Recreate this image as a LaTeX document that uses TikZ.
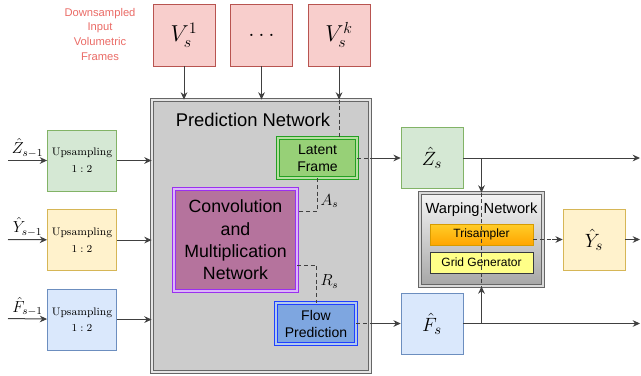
\documentclass[tikz,border=0pt]{standalone}
\usepackage{fontspec}
\newfontfamily\arialfont{Liberation Sans}
\usepackage{tikz}
\usetikzlibrary{shapes,arrows.meta,positioning}

\definecolor{redfill}{HTML}{F8CECC}
\definecolor{redline}{HTML}{B85450}
\definecolor{greenfill}{HTML}{D5E8D4}
\definecolor{greenline}{HTML}{82B366}
\definecolor{yellowfill}{HTML}{FFF2CC}
\definecolor{yellowline}{HTML}{D6B656}
\definecolor{bluefill}{HTML}{DAE8FC}
\definecolor{blueline}{HTML}{6C8EBF}
\definecolor{captionred}{HTML}{EA6B66}
\definecolor{latentfill}{HTML}{97D077}
\definecolor{latentline}{HTML}{22A022}
\definecolor{convfill}{HTML}{B5739D}
\definecolor{convline}{HTML}{9B30F0}
\definecolor{flowfill}{HTML}{7EA6E0}
\definecolor{flowline}{HTML}{2040FF}
\definecolor{trisatop}{HTML}{FFCD28}
\definecolor{trisabot}{HTML}{FFA500}
\definecolor{trisaline}{HTML}{D79B00}
\definecolor{gridfill}{HTML}{FFFF88}
\definecolor{gridline}{HTML}{36393D}
\definecolor{linegray}{HTML}{404040}

\begin{document}
\begin{tikzpicture}[
    x=0.75pt, y=-0.75pt,
    node distance=11.25pt,
    vbox/.style={rectangle, draw=redline, fill=redfill, minimum width=46.5pt, minimum height=46.5pt, font=\fontsize{17}{20}\selectfont},
    upbox/.style={rectangle, draw, minimum width=46.5pt, minimum height=45.75pt, align=center, font=\fontsize{8.2}{12.5}\selectfont},
    hatbox/.style={rectangle, draw, minimum width=46.5pt, minimum height=45.75pt, font=\fontsize{15}{17}\selectfont},
    dblbox/.style={rectangle, double, double distance=1.2pt, line width=0.6pt, align=center},
    smallbox/.style={rectangle, draw, minimum width=77.25pt, minimum height=15.75pt, font=\arialfont\fontsize{9}{10}\selectfont},
    arrow/.style={-{Stealth[length=5.5pt, width=5pt]}, draw=linegray, line width=0.75pt},
    dashline/.style={densely dashed, draw=linegray, line width=0.75pt}
]
    \useasboundingbox (0,0) rectangle (641,375);

    % inputs on top
    \node[align=center, text=captionred, font=\arialfont\fontsize{8.4}{11}\selectfont] (caption) at (100,34) {Downsampled\\Input\\Volumetric\\Frames};
    \node[vbox] (v1) at (184,35) {$V_s^1$};
    \node[vbox, right=of v1] (vdots) {$\dots$};
    \node[vbox, right=of vdots] (vk) {$V_s^k$};

    % prediction network
    \node[dblbox, draw=black!60, double=black!10, fill=black!20, minimum width=163.5pt, minimum height=204pt] (pred) at (261,236) {};
    \node[font=\arialfont\fontsize{13.8}{16}\selectfont] (predlabel) at (253,120) {Prediction Network};
    \node[dblbox, draw=latentline, double=latentfill!70!white, fill=latentfill, minimum width=59.25pt, minimum height=30pt, font=\arialfont\fontsize{10.5}{12.75}\selectfont] (latent) at (317.5,158) {Latent\\Frame};
    \node[dblbox, draw=convline, double=convline!35!white, fill=convfill, minimum width=92.25pt, minimum height=76.5pt, font=\arialfont\fontsize{13.3}{16.7}\selectfont] (conv) at (235.5,240) {Convolution\\and\\Multiplication\\Network};
    \node[dblbox, draw=flowline, double=flowfill!60!white, fill=flowfill, minimum width=60pt, minimum height=30.75pt, font=\arialfont\fontsize{10.5}{12.75}\selectfont] (flow) at (316,323.5) {Flow\\Prediction};

    % upsampling branch
    \node[upbox, draw=greenline, fill=greenfill] (upz) at (82,160.5) {Upsampling\\$1:2$};
    \node[upbox, draw=yellowline, fill=yellowfill, below=13.5pt of upz] (upy) {Upsampling\\$1:2$};
    \node[upbox, draw=blueline, fill=bluefill, below=13.5pt of upy] (upf) {Upsampling\\$1:2$};
    \coordinate (zin) at (8,160.5);
    \coordinate (yin) at (8,239.5);
    \coordinate (fin) at (8,318.5);

    % outputs
    \node[hatbox, draw=greenline, fill=greenfill] (zs) at (432,158) {$\hat{Z}_s$};
    \node[hatbox, draw=blueline, fill=bluefill] (fs) at (432,323.5) {$\hat{F}_s$};
    \node[hatbox, draw=yellowline, fill=yellowfill] (ys) at (594,239.5) {$\hat{Y}_s$};
    \coordinate (zout) at (640,158);
    \coordinate (yout) at (640,239.5);
    \coordinate (fout) at (640,323.5);

    % warping network
    \node[dblbox, draw=black!60, double=black!15, top color=black!4, bottom color=black!35, minimum width=92.25pt, minimum height=69.75pt] (warp) at (481.5,239.5) {};
    \node[font=\arialfont\fontsize{11}{13}\selectfont] (warplabel) at (481.5,210) {Warping Network};
    \node[smallbox, draw=trisaline, top color=trisatop, bottom color=trisabot] (tri) at (481.5,234.5) {Trisampler};
    \node[smallbox, draw=gridline, fill=gridfill] (grid) at (481.5,262.5) {Grid Generator};
    \coordinate (triout) at (552,239.5);

    \draw[arrow] (v1) -- (v1 |- pred.north);
    \draw[arrow] (vdots) -- (vdots |- pred.north);
    \draw[arrow] (vk) -- (vk |- pred.north);
    \draw[dashline] (vk |- pred.north) -- (vk |- latent.north);

    \draw[arrow] (zin) -- node[above, inner sep=2pt, font=\fontsize{11.5}{13}\selectfont] {$\hat{Z}_{s-1}$} (upz);
    \draw[arrow] (yin) -- node[above, inner sep=2pt, font=\fontsize{11.5}{13}\selectfont] {$\hat{Y}_{s-1}$} (upy);
    \draw[arrow] (fin) -- node[above, inner sep=2pt, font=\fontsize{11.5}{13}\selectfont] {$\hat{F}_{s-1}$} (upf);
    \draw[arrow] (upz) -- (upz -| pred.west);
    \draw[arrow] (upy) -- (upy -| pred.west);
    \draw[arrow] (upf) -- (upf -| pred.west);

    \draw[dashline] (latent.south) |- node[pos=0.35, right, inner sep=2pt, font=\fontsize{12}{14}\selectfont] {$A_s$} ([yshift=21.75pt]conv.east);
    \draw[dashline] ([yshift=-18.75pt]conv.east) -| node[pos=0.72, right, inner sep=3pt, font=\fontsize{12}{14}\selectfont] {$R_s$} (flow.north);
    \draw[dashline] (latent.east) -- (latent.east -| pred.east);
    \draw[arrow] (latent.east -| pred.east) -- (zs);
    \draw[dashline] (flow.east) -- (flow.east -| pred.east);
    \draw[arrow] (flow.east -| pred.east) -- (fs);

    \draw[arrow] (zs) -- (zout);
    \draw[arrow] (fs) -- (fout);
    \draw[arrow] (zs.east -| warp.north) -- (warp.north);
    \draw[arrow] (fs.east -| warp.south) -- (warp.south);
    \draw[dashline] (warp.north) -- (warp.south);
    \draw[dashline] (tri.east |- ys) -- (triout);
    \draw[arrow] (triout) -- (ys);
    \draw[arrow] (ys) -- (yout);
\end{tikzpicture}
\end{document}
